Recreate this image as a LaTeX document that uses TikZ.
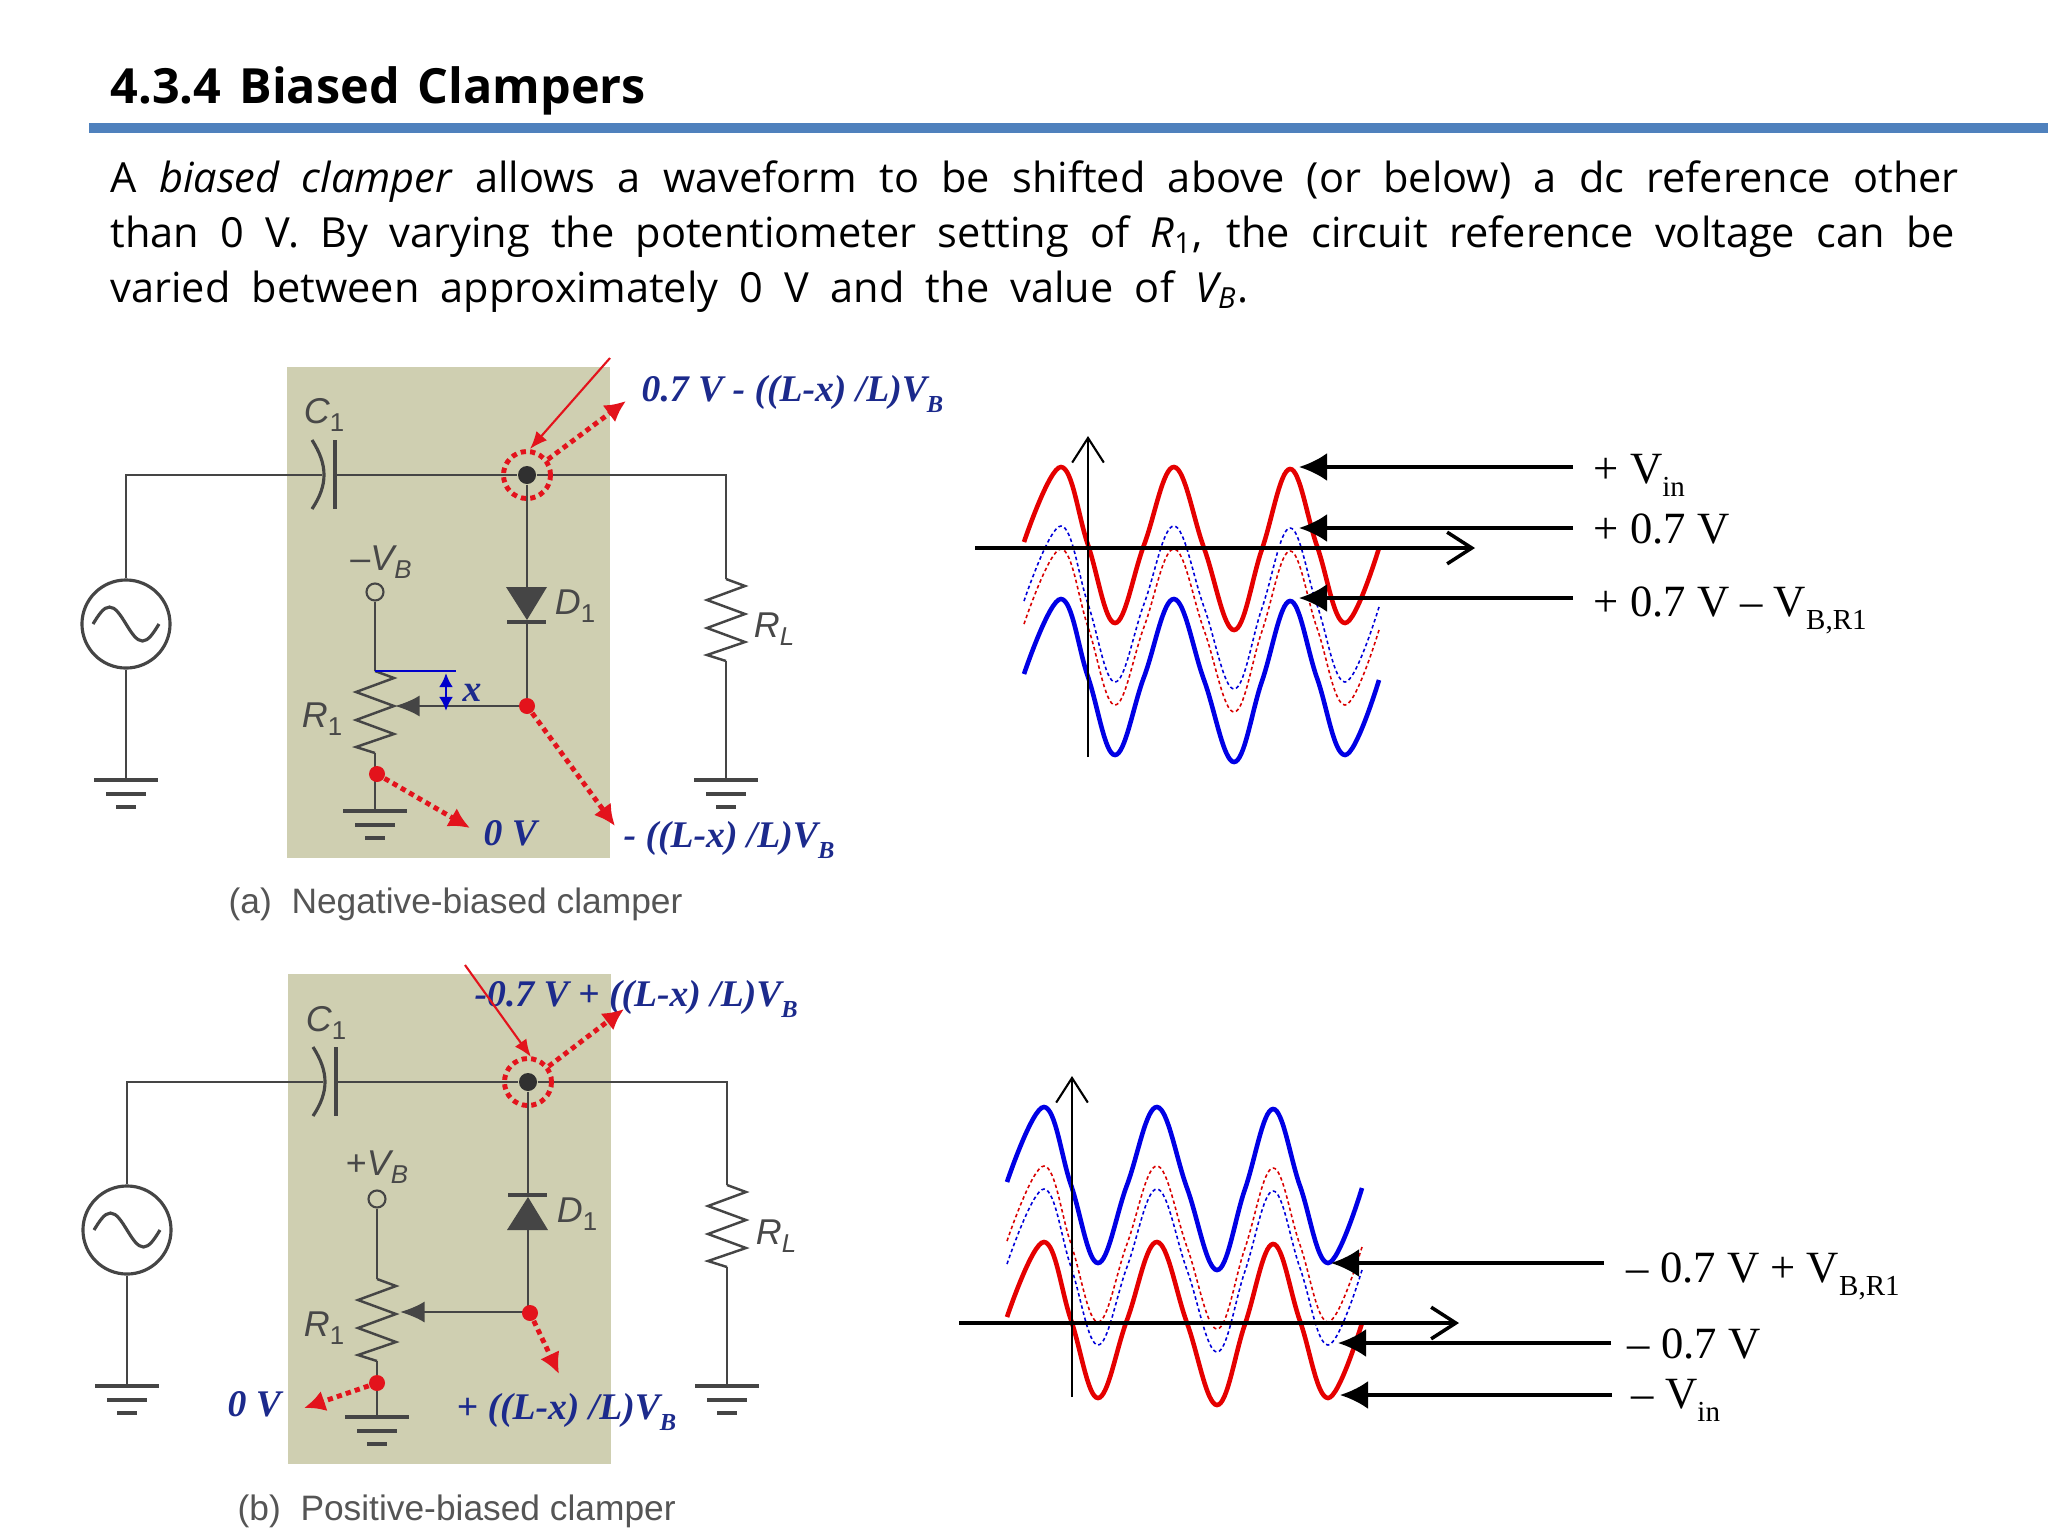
\documentclass[tikz,border=0pt]{standalone}
\usepackage{fontspec}
\setmainfont{Liberation Serif}
\newfontfamily\slidefont{Open Sans}
\newfontfamily\figfont{Liberation Sans}
\usetikzlibrary{arrows.meta}
\definecolor{boxtan}{HTML}{CFCFB1}
\definecolor{wiregray}{HTML}{454545}
\definecolor{rulefill}{HTML}{4F81BD}
\definecolor{navy}{HTML}{1C2A8C}
\definecolor{capgray}{HTML}{555555}
\definecolor{dotred}{HTML}{E3131C}
\newcommand{\subtext}[1]{\raisebox{-0.3em}{\scalebox{0.65}{#1}}}
\newcommand{\figsub}[1]{\raisebox{-0.25em}{\scalebox{0.72}{#1}}}
\newcommand{\zigpath}{-- ++(19,7) -- ++(-38,14) -- ++(38,14) -- ++(-38,14) -- ++(38,14) -- ++(-38,13) -- ++(19,6)}
\newcommand{\clampwave}{plot[smooth,tension=0.65] coordinates {(0,0) (37,-75) (64,3) (91,81) (120,3) (150,-75) (180,6) (210,88) (238,7) (266,-73) (293,4) (321,81) (355,6)}}
\newcommand{\groundbars}[1]{\draw[gndbar] (#1) ++(-32,0) -- ++(64,0) ++(-52,14) -- ++(40,0) ++(-30,13) -- ++(20,0);}
\newcommand{\sinesign}[1]{\draw[wire,line width=0.9pt] (#1) ++(-33,0) sin ++(16.5,-17) cos ++(16.5,17) sin ++(16.5,17) cos ++(16.5,-17);}
\tikzset{
  x=0.01cm,y=-0.01cm,
  wire/.style={draw=wiregray,line width=0.7pt},
  gndbar/.style={draw=wiregray,line width=1.1pt},
  source/.style={draw=wiregray,line width=0.9pt,circle,minimum size=0.88cm,inner sep=0pt},
  joint/.style={fill=wiregray!70!black,circle,minimum size=0.18cm,inner sep=0pt},
  reddot/.style={fill=dotred,circle,minimum size=0.16cm,inner sep=0pt},
  terminal/.style={draw=wiregray,fill=boxtan,line width=0.6pt,circle,minimum size=0.17cm,inner sep=0pt},
  halo/.style={draw=dotred,line width=1.4pt,dash pattern=on 1.5pt off 1.2pt,circle,minimum size=0.47cm,inner sep=0pt},
  dotarrow/.style={draw=dotred,line width=1.4pt,dash pattern=on 1.5pt off 1.2pt,-{Latex[length=6pt,width=6pt]}},
  thinarrow/.style={draw=dotred,line width=0.6pt,-{Latex[length=5pt,width=4pt]}},
  wiperarrow/.style={wire,-{Latex[length=7pt,width=6pt]}},
  figlabel/.style={text=capgray!85!black,anchor=base,inner sep=0pt,font=\figfont\itshape\fontsize{10.2}{12}\selectfont},
  volt/.style={text=navy,anchor=base west,inner sep=0pt,font=\bfseries\itshape\fontsize{10.7}{12}\selectfont},
  caption/.style={text=capgray,anchor=base west,inner sep=0pt,font=\figfont\fontsize{10.05}{12}\selectfont},
  bodyline/.style={anchor=base west,inner sep=0pt,font=\slidefont\fontsize{11.8}{13}\selectfont},
  wavelabel/.style={anchor=base west,inner sep=0pt,font=\fontsize{12.7}{15}\selectfont},
  redwave/.style={draw=red!90!black,line width=1.3pt},
  bluewave/.style={draw=blue!90!black,line width=1.3pt},
  reddots/.style={draw=red!85!black,line width=0.45pt,dash pattern=on 1pt off 0.8pt},
  bluedots/.style={draw=blue!85!black,line width=0.45pt,dash pattern=on 1pt off 0.8pt},
  axis/.style={draw=black,line width=0.6pt,-{Straight Barb[length=7pt,width=9pt]}},
  pointer/.style={draw=black,line width=1.1pt,-{Latex[length=8pt,width=8pt]}}
}
\begin{document}
\begin{tikzpicture}
    \useasboundingbox (0,0) rectangle (2048,1536);

    % heading
    \node[anchor=base west,inner sep=0pt,font=\slidefont\bfseries\fontsize{13.8}{16}\selectfont] (title) at (110,103) {\makebox[5.35cm][s]{4.3.4 Biased Clampers}};
    \fill[rulefill] (89,123) rectangle (2048,133);
    \node[bodyline] (line1) at (110,192) {\makebox[18.47cm][s]{A \textit{biased clamper} allows a waveform to be shifted above (or below) a dc reference other}};
    \node[bodyline] (line2) at (110,247) {\makebox[18.43cm][s]{than 0 V. By varying the potentiometer setting of \textit{R}\textsubscript{1}, the circuit reference voltage can be}};
    \node[bodyline] (line3) at (110,302) {\makebox[11.37cm][s]{varied between approximately 0 V and the value of \textit{V\textsubscript{B}}.}};

    % negative-biased clamper
    \fill[boxtan] (287,367) rectangle (610,858);
    \node[source] (srca) at (126,624) {};
    \sinesign{srca}
    \coordinate (topla) at (126,475);
    \coordinate (capla) at (322,475);
    \coordinate (capra) at (335,475);
    \coordinate (topra) at (726,475);
    \node[joint] (nodea) at (527,475) {};
    \coordinate (diodeina) at (527,587);
    \coordinate (diodeouta) at (527,622);
    \coordinate (wipera) at (527,706);
    \coordinate (wipertipa) at (395,706);
    \node[terminal] (biasa) at (375,592) {};
    \coordinate (ronetopa) at (375,671);
    \coordinate (ronebota) at (375,753);
    \coordinate (rltopa) at (726,579);
    \coordinate (rlbota) at (726,661);
    \coordinate (gndla) at (126,780);
    \coordinate (gndma) at (375,811);
    \coordinate (gndra) at (726,780);
    \path[wire] (srca) -- (topla) -- (capla);
    \path[wire] (capra) -- (nodea) -- (topra) -- (rltopa);
    \path[wire] (srca) -- (gndla);
    \path[wire] (nodea) -- (diodeina);
    \path[wire] (diodeouta) -- (wipera);
    \path[wire] (biasa) -- (ronetopa);
    \path[wire] (ronebota) -- (gndma);
    \path[wire] (rlbota) -- (gndra);
    \path[wire] (ronetopa) \zigpath;
    \path[wire] (rltopa) \zigpath;
    \path[wire,line width=0.9pt] (335,440) -- (335,509);
    \path[wire,line width=0.9pt] (312,440) .. controls (328,465) and (328,485) .. (312,509);
    \fill[wiregray] (506,587) -- (547,587) -- (527,620) -- cycle;
    \path[wire,line width=1pt] (507,622) -- (546,622);
    \path[wiperarrow] (wipera) -- (wipertipa);
    \groundbars{gndla}
    \groundbars{gndma}
    \groundbars{gndra}
    \path[draw=blue!80!black,line width=0.6pt] (ronetopa) -- (456,671);
    \path[draw=blue!80!black,line width=0.8pt,{Latex[length=4pt,width=4pt]}-{Latex[length=4pt,width=4pt]}] (446,673) -- (446,711);
    \node[figlabel] (c1a) at (324,423) {C\figsub{\upshape 1}};
    \node[figlabel] (d1a) at (575,614) {D\figsub{\upshape 1}};
    \node[figlabel] (vba) at (381,570) {\upshape –\itshape V\figsub{B}};
    \node[figlabel] (r1a) at (322,727) {R\figsub{\upshape 1}};
    \node[figlabel] (rla) at (774,637) {R\figsub{L}};
    \node[volt] (xa) at (462,701) {x};
    \node[volt] (highera) at (641,401) {0.7 V - ((L-x) /L)V\subtext{B}};
    \node[volt] (zeroa) at (483,845) {0 V};
    \node[volt] (lowera) at (623,847) {- ((L-x) /L)V\subtext{B}};
    \node[caption] (capa) at (228,913) {(a)\ \ Negative-biased clamper};
    \node[halo] (haloa) at (527,475) {};
    \node[reddot] (dotra) at (527,706) {};
    \node[reddot] (dotga) at (377,774) {};
    \coordinate (redfroma) at (610,358);
    \coordinate (redtoa) at (530,449);
    \coordinate (uptoa) at (626,401);
    \coordinate (zerotoa) at (470,828);
    \coordinate (lowtoa) at (615,826);
    \path[thinarrow] (redfroma) -- (redtoa);
    \path[dotarrow] (haloa) -- (uptoa);
    \path[dotarrow] (dotga) -- (zerotoa);
    \path[dotarrow] (dotra) -- (lowtoa);

    % positive-biased clamper
    \fill[boxtan] (288,974) rectangle (611,1464);
    \node[source] (srcb) at (127,1230) {};
    \sinesign{srcb}
    \coordinate (toplb) at (127,1082);
    \coordinate (caplb) at (323,1082);
    \coordinate (caprb) at (336,1082);
    \coordinate (toprb) at (727,1082);
    \node[joint] (nodeb) at (528,1082) {};
    \coordinate (diodeinb) at (528,1230);
    \coordinate (diodeoutb) at (528,1195);
    \coordinate (wiperb) at (528,1312);
    \coordinate (wipertipb) at (400,1312);
    \node[terminal] (biasb) at (377,1199) {};
    \coordinate (ronetopb) at (377,1279);
    \coordinate (ronebotb) at (377,1361);
    \coordinate (rltopb) at (727,1185);
    \coordinate (rlbotb) at (727,1267);
    \coordinate (gndlb) at (127,1386);
    \coordinate (gndmb) at (377,1417);
    \coordinate (gndrb) at (727,1386);
    \path[wire] (srcb) -- (toplb) -- (caplb);
    \path[wire] (caprb) -- (nodeb) -- (toprb) -- (rltopb);
    \path[wire] (srcb) -- (gndlb);
    \path[wire] (nodeb) -- (diodeoutb);
    \path[wire] (diodeinb) -- (wiperb);
    \path[wire] (biasb) -- (ronetopb);
    \path[wire] (ronebotb) -- (gndmb);
    \path[wire] (rlbotb) -- (gndrb);
    \path[wire] (ronetopb) \zigpath;
    \path[wire] (rltopb) \zigpath;
    \path[wire,line width=0.9pt] (336,1047) -- (336,1116);
    \path[wire,line width=0.9pt] (313,1047) .. controls (329,1072) and (329,1092) .. (313,1116);
    \fill[wiregray] (507,1230) -- (548,1230) -- (528,1197) -- cycle;
    \path[wire,line width=1pt] (508,1195) -- (547,1195);
    \path[wiperarrow] (wiperb) -- (wipertipb);
    \groundbars{gndlb}
    \groundbars{gndmb}
    \groundbars{gndrb}
    \node[figlabel] (c1b) at (326,1031) {C\figsub{\upshape 1}};
    \node[figlabel] (d1b) at (577,1222) {D\figsub{\upshape 1}};
    \node[figlabel] (vbb) at (377,1175) {\upshape +\itshape V\figsub{B}};
    \node[figlabel] (r1b) at (324,1336) {R\figsub{\upshape 1}};
    \node[figlabel] (rlb) at (776,1244) {R\figsub{L}};
    \node[volt] (higherb) at (474,1006) {-0.7 V + ((L-x) /L)V\subtext{B}};
    \node[volt] (zerob) at (227,1416) {0 V};
    \node[volt] (lowerb) at (456,1419) {+ ((L-x) /L)V\subtext{B}};
    \node[caption] (capb) at (237,1520) {(b)\ \ Positive-biased clamper};
    \node[halo] (halob) at (528,1082) {};
    \node[reddot] (dotrb) at (530,1313) {};
    \node[reddot] (dotgb) at (377,1383) {};
    \coordinate (redfromb) at (465,965);
    \coordinate (redtob) at (531,1057);
    \coordinate (uptob) at (624,1009);
    \coordinate (zerotob) at (304,1408);
    \coordinate (lowtob) at (559,1374);
    \path[thinarrow] (redfromb) -- (redtob);
    \path[dotarrow] (halob) -- (uptob);
    \path[dotarrow] (dotgb) -- (zerotob);
    \path[dotarrow] (dotrb) -- (lowtob);

    % upper waveforms
    \path[reddots,shift={(1024,624)}] \clampwave;
    \path[bluedots,shift={(1024,601)}] \clampwave;
    \path[redwave,shift={(1024,542)}] \clampwave;
    \path[bluewave,shift={(1024,674)}] \clampwave;
    \coordinate (vaxisfroma) at (1088,757);
    \coordinate (vaxistoa) at (1088,436);
    \coordinate (haxisfroma) at (975,548);
    \coordinate (haxistoa) at (1475,548);
    \path[axis] (vaxisfroma) -- (vaxistoa);
    \path[axis,line width=1pt] (haxisfroma) -- (haxistoa);
    \node[wavelabel] (vina) at (1593,483) {+ V\subtext{in}};
    \node[wavelabel] (sevena) at (1593,543) {+ 0.7 V};
    \node[wavelabel] (rona) at (1593,616) {+ 0.7 V -- V\subtext{B,R1}};
    \coordinate (vintipa) at (1299,467);
    \coordinate (seventipa) at (1299,528);
    \coordinate (rontipa) at (1299,598);
    \coordinate (vinfroma) at (1573,467);
    \coordinate (sevenfroma) at (1573,528);
    \coordinate (ronfroma) at (1573,598);
    \path[pointer] (vinfroma) -- (vintipa);
    \path[pointer] (sevenfroma) -- (seventipa);
    \path[pointer] (ronfroma) -- (rontipa);

    % lower waveforms
    \path[bluedots,shift={(1007,1264)}] \clampwave;
    \path[reddots,shift={(1007,1241)}] \clampwave;
    \path[bluewave,shift={(1007,1182)}] \clampwave;
    \path[redwave,shift={(1007,1317)}] \clampwave;
    \coordinate (vaxisfromb) at (1072,1397);
    \coordinate (vaxistob) at (1072,1076);
    \coordinate (haxisfromb) at (959,1323);
    \coordinate (haxistob) at (1459,1323);
    \path[axis] (vaxisfromb) -- (vaxistob);
    \path[axis,line width=1pt] (haxisfromb) -- (haxistob);
    \node[wavelabel] (ronb) at (1626,1282) {-- 0.7 V + V\subtext{B,R1}};
    \node[wavelabel] (sevenb) at (1627,1358) {-- 0.7 V};
    \node[wavelabel] (vinb) at (1631,1408) {-- V\subtext{in}};
    \coordinate (rontipb) at (1331,1263);
    \coordinate (seventipb) at (1338,1343);
    \coordinate (vintipb) at (1340,1395);
    \coordinate (ronfromb) at (1604,1263);
    \coordinate (sevenfromb) at (1611,1343);
    \coordinate (vinfromb) at (1612,1395);
    \path[pointer] (ronfromb) -- (rontipb);
    \path[pointer] (sevenfromb) -- (seventipb);
    \path[pointer] (vinfromb) -- (vintipb);
\end{tikzpicture}
\end{document}
